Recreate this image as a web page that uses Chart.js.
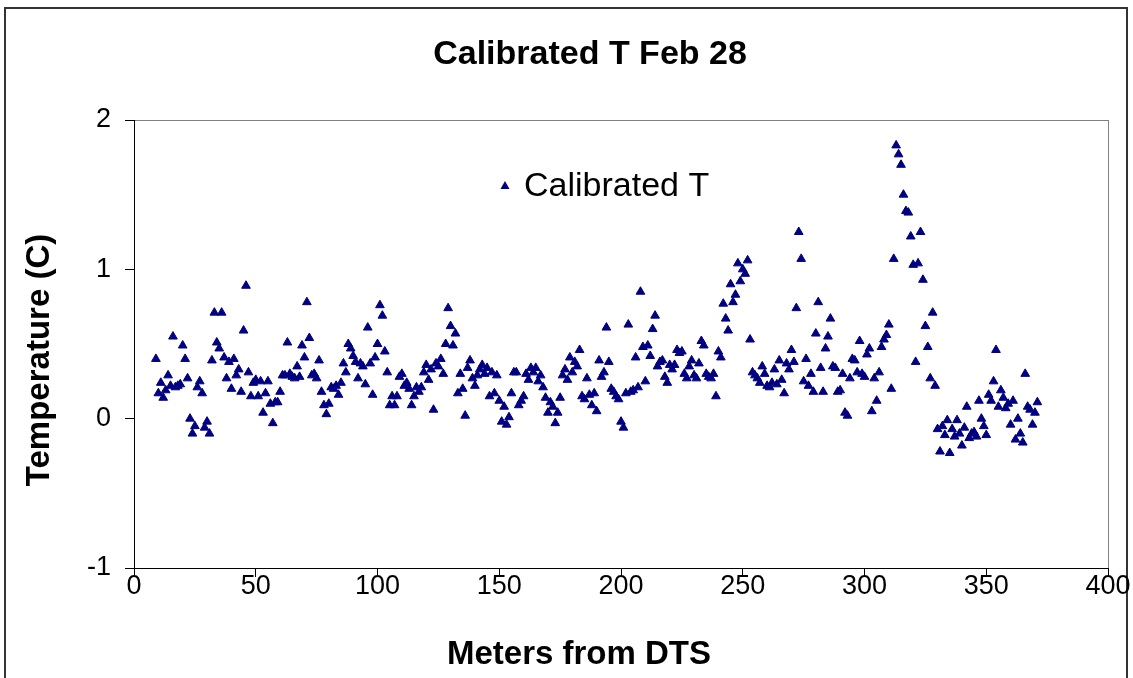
<!DOCTYPE html>
<html>
<head>
<meta charset="utf-8">
<title>Calibrated T Feb 28</title>
<script src="https://cdn.jsdelivr.net/npm/chart.js@4.4.1/dist/chart.umd.min.js"></script>
<style>
    html, body { margin: 0; padding: 0; background: #fff; }
    #wrap { width: 1133px; height: 678px; position: relative; }
</style>
</head>
<body>
<div id="wrap"><canvas id="tChart" width="1133" height="678"></canvas></div>
<script>
// Chart data
const chartTitle = "Calibrated T Feb 28";
const seriesName = "Calibrated T";
const xAxisTitle = "Meters from DTS";
const yAxisTitle = "Temperature (C)";
const xTicks = [0, 50, 100, 150, 200, 250, 300, 350, 400];
const yTicks = [-1, 0, 1, 2];

// one reading per meter, first reading at 9 m
const firstMeter = 9;
const calibratedT = [
    0.40, 0.17, 0.24, 0.14, 0.19, 0.29, 0.22, 0.55, 0.21, 0.22,
    0.23, 0.49, 0.40, 0.27, 0.00, -0.10, -0.05, 0.21, 0.25, 0.17,
    -0.06, -0.02, -0.10, 0.39, 0.71, 0.51, 0.47, 0.71, 0.41, 0.27,
    0.38, 0.20, 0.40, 0.29, 0.33, 0.18, 0.59, 0.89, 0.31, 0.15,
    0.24, 0.26, 0.15, 0.25, 0.04, 0.17, 0.25, 0.10, -0.03, 0.11,
    0.11, 0.18, 0.29, 0.29, 0.51, 0.30, 0.28, 0.27, 0.35, 0.28,
    0.49, 0.41, 0.78, 0.54, 0.29, 0.30, 0.27, 0.39, 0.18, 0.09,
    0.03, 0.10, 0.21, 0.20, 0.22, 0.16, 0.24, 0.37, 0.31, 0.50,
    0.47, 0.42, 0.38, 0.27, 0.37, 0.35, 0.23, 0.61, 0.37, 0.16,
    0.41, 0.50, 0.76, 0.69, 0.45, 0.31, 0.09, 0.15, 0.09, 0.15,
    0.28, 0.30, 0.22, 0.24, 0.20, 0.09, 0.15, 0.21, 0.18, 0.21,
    0.31, 0.36, 0.26, 0.33, 0.06, 0.37, 0.35, 0.40, 0.30, 0.50,
    0.74, 0.62, 0.49, 0.57, 0.17, 0.30, 0.20, 0.02, 0.34, 0.39,
    0.27, 0.22, 0.29, 0.33, 0.36, 0.30, 0.34, 0.15, 0.31, 0.17,
    0.29, 0.12, -0.02, 0.08, -0.04, 0.01, 0.17, 0.31, 0.31, 0.09,
    0.12, 0.15, 0.30, 0.26, 0.34, 0.31, 0.34, 0.25, 0.29, 0.21,
    0.14, 0.04, 0.11, 0.08, -0.03, 0.04, 0.14, 0.29, 0.33, 0.26,
    0.41, 0.31, 0.38, 0.35, 0.46, 0.15, 0.13, 0.27, 0.16, 0.09,
    0.17, 0.05, 0.39, 0.28, 0.31, 0.61, 0.38, 0.20, 0.18, 0.15,
    0.13, -0.02, -0.06, 0.17, 0.63, 0.18, 0.19, 0.41, 0.21, 0.85,
    0.48, 0.25, 0.49, 0.42, 0.60, 0.69, 0.35, 0.38, 0.39, 0.28,
    0.24, 0.36, 0.33, 0.36, 0.46, 0.44, 0.45, 0.30, 0.27, 0.35,
    0.39, 0.29, 0.27, 0.37, 0.52, 0.49, 0.30, 0.28, 0.27, 0.30,
    0.15, 0.45, 0.41, 0.77, 0.67, 0.59, 0.90, 0.78, 0.83, 1.04,
    0.92, 1.00, 0.97, 1.06, 0.53, 0.31, 0.29, 0.27, 0.24, 0.35,
    0.30, 0.22, 0.21, 0.24, 0.33, 0.23, 0.39, 0.26, 0.17, 0.37,
    0.33, 0.46, 0.38, 0.74, 1.25, 1.07, 0.25, 0.40, 0.22, 0.30,
    0.18, 0.57, 0.78, 0.34, 0.18, 0.47, 0.55, 0.67, 0.35, 0.34,
    0.18, 0.19, 0.30, 0.04, 0.02, 0.27, 0.40, 0.39, 0.31, 0.52,
    0.30, 0.28, 0.43, 0.47, 0.05, 0.27, 0.12, 0.31, 0.48, 0.53,
    0.56, 0.63, 0.20, 1.07, 1.83, 1.77, 1.70, 1.50, 1.39, 1.38,
    1.22, 1.03, 0.38, 1.04, 1.25, 0.93, 0.62, 0.48, 0.27, 0.71,
    0.22, -0.07, -0.22, -0.05, -0.11, -0.01, -0.23, -0.07, -0.12, -0.01,
    -0.10, -0.18, -0.06, 0.08, -0.13, -0.10, -0.09, -0.12, 0.12, 0.00,
    -0.05, -0.11, 0.16, 0.12, 0.25, 0.46, 0.08, 0.19, 0.14, 0.07,
    0.10, -0.04, 0.12, -0.14, 0.00, -0.10, -0.16, 0.30, 0.08, 0.06,
    -0.04, 0.04, 0.11
];

const markerColor = '#000080';
const fontFamily = "'Liberation Sans', Arial, sans-serif";

// plot area box
const plotBox = { left: 134, top: 120, right: 1108, bottom: 568 };

const points = calibratedT.map((t, i) => ({ x: firstMeter + i, y: t }));

// draws frame, title, axis titles and the in-plot legend
const decorPlugin = {
    id: 'decor',
    beforeDraw(chart) {
        const ctx = chart.ctx;
        const area = chart.chartArea;
        ctx.save();
        ctx.fillStyle = '#fff';
        ctx.fillRect(0, 0, chart.width, chart.height);
        // outer chart frame
        ctx.strokeStyle = '#333';
        ctx.lineWidth = 2;
        ctx.strokeRect(5, 8, 1122, 700);
        // grey plot area border
        ctx.strokeStyle = '#808080';
        ctx.lineWidth = 1;
        ctx.strokeRect(area.left + 0.5, area.top + 0.5, area.right - area.left, area.bottom - area.top);
        ctx.restore();
    },
    afterDraw(chart) {
        const ctx = chart.ctx;
        ctx.save();
        ctx.fillStyle = '#000';
        ctx.textAlign = 'center';
        ctx.textBaseline = 'middle';

        ctx.font = 'bold 34px ' + fontFamily;
        ctx.fillText(chartTitle, 590, 55);

        ctx.font = 'bold 33px ' + fontFamily;
        ctx.fillText(xAxisTitle, 579, 655);

        ctx.save();
        ctx.translate(40, 360);
        ctx.rotate(-Math.PI / 2);
        ctx.fillText(yAxisTitle, 0, 0);
        ctx.restore();

        // legend
        const lx = 505, ly = 186;
        ctx.fillStyle = markerColor;
        ctx.beginPath();
        ctx.moveTo(lx, ly - 5);
        ctx.lineTo(lx + 4.5, ly + 3);
        ctx.lineTo(lx - 4.5, ly + 3);
        ctx.closePath();
        ctx.fill();
        ctx.fillStyle = '#000';
        ctx.textAlign = 'left';
        ctx.font = '34px ' + fontFamily;
        ctx.fillText(seriesName, 524, 187);
        ctx.restore();
    }
};

const ctx = document.getElementById('tChart').getContext('2d');
new Chart(ctx, {
    type: 'scatter',
    data: {
        datasets: [{
            label: seriesName,
            data: points,
            pointStyle: 'triangle',
            pointRadius: 5,
            pointBackgroundColor: markerColor,
            pointBorderColor: markerColor,
            pointBorderWidth: 1
        }]
    },
    options: {
        responsive: false,
        animation: false,
        devicePixelRatio: 1,
        layout: {
            padding: { top: plotBox.top, right: 1133 - plotBox.right, left: 0, bottom: 0 }
        },
        plugins: {
            legend: { display: false },
            title: { display: false },
            tooltip: { enabled: false }
        },
        scales: {
            x: {
                type: 'linear',
                min: xTicks[0],
                max: xTicks[xTicks.length - 1],
                afterBuildTicks: scale => { scale.ticks = xTicks.map(v => ({ value: v })); },
                afterFit: scale => { scale.height = 678 - plotBox.bottom; },
                ticks: { color: '#000', font: { family: fontFamily, size: 27 }, padding: -7 },
                grid: { drawOnChartArea: false, tickLength: 9, color: '#000' },
                border: { color: '#000', width: 1 }
            },
            y: {
                type: 'linear',
                min: yTicks[0],
                max: yTicks[yTicks.length - 1],
                afterBuildTicks: scale => { scale.ticks = yTicks.map(v => ({ value: v })); },
                afterFit: scale => { scale.width = plotBox.left; },
                ticks: { color: '#000', font: { family: fontFamily, size: 27 }, padding: 14 },
                grid: { drawOnChartArea: false, tickLength: 9, color: '#000' },
                border: { color: '#000', width: 1 }
            }
        }
    },
    plugins: [decorPlugin]
});
</script>
</body>
</html>
